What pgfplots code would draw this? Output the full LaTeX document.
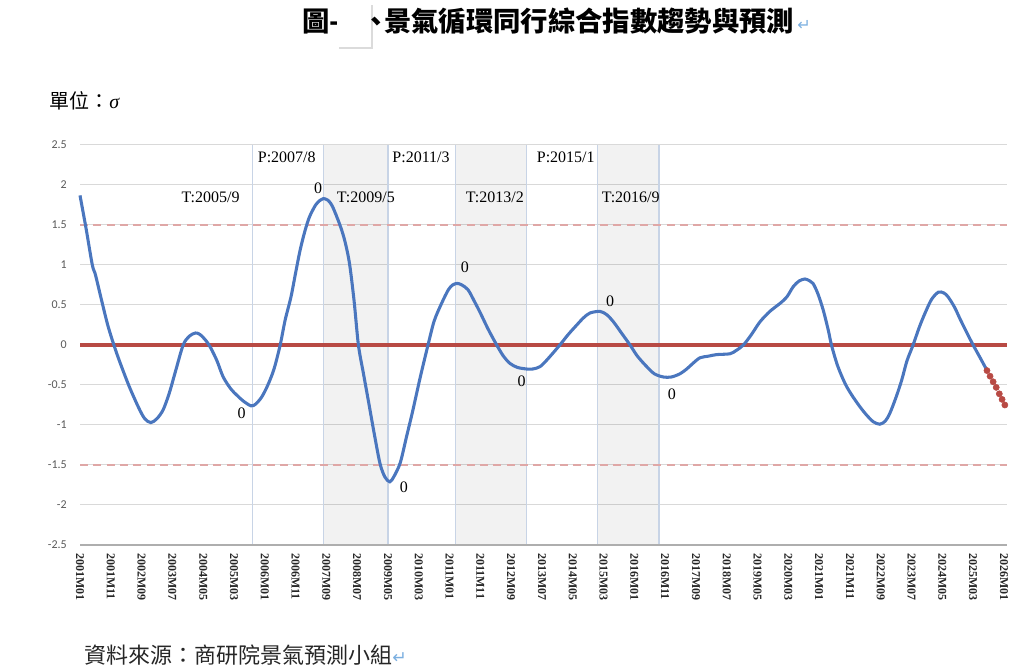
\documentclass[border=0pt]{standalone}
\usepackage{pgfplots}
\pgfplotsset{compat=1.18}
\usepackage{fontspec}
\setmainfont{Liberation Serif}
\newfontfamily\cjk{Noto Sans CJK TC}
\newfontfamily\carlito{Carlito}
\newfontfamily\dejavu{DejaVu Sans}
\definecolor{bline}{HTML}{4A76BE}
\definecolor{rline}{HTML}{B84A44}
\definecolor{pinkd}{HTML}{DFA7A6}
\definecolor{gridc}{HTML}{D9D9D9}
\definecolor{vline}{HTML}{C8D4E6}
\definecolor{retc}{HTML}{7BAFE0}
\definecolor{ticktxt}{HTML}{595959}
\begin{document}
\begin{tikzpicture}
\begin{scope}[x=0.75pt,y=-0.75pt,yshift=502.5pt]
\useasboundingbox (0,0) rectangle (1024,670);
\end{scope}
\begin{axis}[
  at={(60pt,93.75pt)}, anchor=south west,
  scale only axis, width=695.25pt, height=300pt,
  xmin=0, xmax=301, ymin=-2.5, ymax=2.5,
  axis line style={draw=none},
  major tick length=0pt,
  clip=false,
  ytick={-2.5,-2,-1.5,-1,-0.5,0,0.5,1,1.5,2,2.5},
  yticklabels={-2.5,-2,-1.5,-1,-0.5,0,0.5,1,1.5,2,2.5},
  yticklabel style={anchor=east, inner sep=0pt, xshift=-9.75pt, text=ticktxt, font=\carlito\fontsize{9}{10}\selectfont},
  xtick={0,10,...,300},
  xticklabels={2001M01,2001M11,2002M09,2003M07,2004M05,2005M03,2006M01,2006M11,2007M09,2008M07,2009M05,2010M03,2011M01,2011M11,2012M09,2013M07,2014M05,2015M03,2016M01,2016M11,2017M09,2018M07,2019M05,2020M03,2021M01,2021M11,2022M09,2023M07,2024M05,2025M03,2026M01},
  xticklabel style={yshift=-6pt, rotate=-90, anchor=west, inner sep=0pt, text=black!85, font=\bfseries\fontsize{9}{10}\selectfont},
  ymajorgrids, grid style={gridc, line width=0.75pt},
]
% recession shading
\addplot[draw=none, fill=black, fill opacity=0.05] coordinates {(79,-2.5) (79,2.5) (100,2.5) (100,-2.5)} -- cycle;
\addplot[draw=none, fill=black, fill opacity=0.05] coordinates {(122,-2.5) (122,2.5) (145,2.5) (145,-2.5)} -- cycle;
\addplot[draw=none, fill=black, fill opacity=0.05] coordinates {(168,-2.5) (168,2.5) (188,2.5) (188,-2.5)} -- cycle;
% cycle lines
\addplot[vline, line width=0.8pt] coordinates {(56,-2.5) (56,2.5)};
\addplot[vline, line width=0.8pt] coordinates {(79,-2.5) (79,2.5)};
\addplot[vline, line width=0.8pt] coordinates {(100,-2.5) (100,2.5)};
\addplot[vline, line width=0.8pt] coordinates {(122,-2.5) (122,2.5)};
\addplot[vline, line width=0.8pt] coordinates {(145,-2.5) (145,2.5)};
\addplot[vline, line width=0.8pt] coordinates {(168,-2.5) (168,2.5)};
\addplot[vline, line width=0.8pt] coordinates {(188,-2.5) (188,2.5)};
% bottom axis line
\addplot[gridc!80!black, line width=0.8pt] coordinates {(0,-2.5) (301,-2.5)};
% +-1.5 dashed lines
\addplot[pinkd, line width=2.2pt, dash pattern=on 6pt off 4pt] coordinates {(0,1.5) (301,1.5)};
\addplot[pinkd, line width=2.2pt, dash pattern=on 6pt off 4pt] coordinates {(0,-1.5) (301,-1.5)};
% zero line
\addplot[rline, line width=2.4pt] coordinates {(0,0) (301,0)};
% coincident composite index
\addplot[bline, line width=2.3pt, smooth] coordinates {
(0,1.87) (2,1.45) (4,1.0) (5,0.88) (7,0.56) (9,0.25) (11,0.0) (13,-0.22) (16,-0.52)
(19,-0.78) (21,-0.92) (23,-0.97) (25,-0.92) (27,-0.81) (29,-0.6) (31,-0.33) (33.5,0)
(35.5,0.11) (37.5,0.15) (39,0.13) (41,0.05) (42.5,-0.04) (44.5,-0.2) (46.5,-0.4)
(49,-0.55) (51,-0.63) (53,-0.7) (55.5,-0.76) (57,-0.74) (59,-0.65) (61,-0.5) (63,-0.3)
(65,0) (66.6,0.31) (68.5,0.6) (70,0.9) (71.5,1.19) (73,1.42) (74.5,1.6) (76.5,1.75)
(78,1.81) (79,1.83) (80.5,1.81) (82,1.73) (84.4,1.5) (86,1.3) (87.5,1.02) (89,0.55)
(90.4,0.0) (92,-0.35) (93.6,-0.69) (95.5,-1.1) (97.4,-1.48) (99,-1.65) (100.6,-1.71)
(102,-1.64) (104,-1.47) (106,-1.15) (108,-0.83) (110.5,-0.4) (113,0.0) (115,0.3)
(117.4,0.52) (119.6,0.69) (121,0.75) (122.5,0.77) (124,0.75) (126,0.69) (128,0.55)
(130,0.4) (132.5,0.2) (135.3,0.0) (137.5,-0.14) (139.6,-0.23) (142,-0.28) (145,-0.30)
(147,-0.3) (149.4,-0.27) (152,-0.17) (155.8,0.0) (158.5,0.13) (161.3,0.25) (163.5,0.34)
(165.6,0.4) (168.8,0.42) (171,0.38) (173.2,0.29) (176,0.14) (178.6,0.0) (181,-0.14)
(184,-0.27) (186.5,-0.36) (189.4,-0.40) (192,-0.40) (194.8,-0.36) (197,-0.30) (199,-0.23)
(201.3,-0.16) (204,-0.14) (206.7,-0.12) (211,-0.11) (213,-0.07) (215.4,0.0) (218,0.13)
(220.8,0.29) (224,0.42) (227.3,0.52) (229.5,0.6) (231.6,0.73) (233.5,0.80) (235.4,0.825)
(237,0.8) (238,0.77) (239.5,0.65) (241.3,0.44) (243,0.18) (244,0.0) (246,-0.26)
(248.4,-0.48) (250.5,-0.62) (253.2,-0.77) (255.5,-0.88) (257.6,-0.96) (259.7,-0.99)
(261.5,-0.95) (263,-0.85) (265,-0.65) (266.8,-0.44) (268.5,-0.2) (270.5,0.0) (272.5,0.22)
(274.4,0.4) (276.5,0.57) (278.7,0.66) (280.5,0.65) (281.9,0.60) (284,0.47) (285.7,0.33)
(288,0.15) (290,0.0) (292,-0.14) (294.4,-0.31)
};
% forecast
\addplot[only marks, mark=*, mark size=2.3pt, rline] coordinates {
(294.5,-0.32) (295.5,-0.39) (296.5,-0.46) (297.5,-0.53) (298.5,-0.61) (299.4,-0.68) (300.3,-0.75)
};
% annotations
\begin{scope}[font=\fontsize{12}{14}\selectfont]
\node[anchor=east, inner sep=0pt] at (axis cs:76.6,2.35) {P:2007/8};
\node[anchor=east, inner sep=0pt] at (axis cs:120.1,2.35) {P:2011/3};
\node[anchor=east, inner sep=0pt] at (axis cs:167.2,2.35) {P:2015/1};
\node[anchor=east, inner sep=0pt] at (axis cs:51.9,1.85) {T:2005/9};
\node[anchor=east, inner sep=0pt] at (axis cs:102.3,1.85) {T:2009/5};
\node[anchor=east, inner sep=0pt] at (axis cs:144.2,1.85) {T:2013/2};
\node[anchor=east, inner sep=0pt] at (axis cs:188.3,1.85) {T:2016/9};
\node[inner sep=0pt] at (axis cs:77.3,1.96) {0};
\node[inner sep=0pt] at (axis cs:52.5,-0.85) {0};
\node[inner sep=0pt] at (axis cs:105.2,-1.78) {0};
\node[inner sep=0pt] at (axis cs:125,0.975) {0};
\node[inner sep=0pt] at (axis cs:143.4,-0.45) {0};
\node[inner sep=0pt] at (axis cs:172.1,0.55) {0};
\node[inner sep=0pt] at (axis cs:192.2,-0.62) {0};
\end{scope}
\end{axis}
\begin{scope}[x=0.75pt,y=-0.75pt,yshift=502.5pt]
% title
\node[anchor=base west, inner sep=0pt, font=\cjk\bfseries\fontsize{20.5}{24}\selectfont] at (302,32) {圖-};
\fill[black!14] (339,5) rectangle (373,49);
\fill[white] (337,3) rectangle (371,47);
\node[inner sep=0pt, font=\cjk\bfseries\fontsize{20.5}{24}\selectfont] at (376,24) {、};
\node[anchor=base west, inner sep=0pt, font=\cjk\bfseries\fontsize{20.5}{24}\selectfont] at (384,32) {景氣循環同行綜合指數趨勢與預測};
\node[inner sep=0pt, text=retc, font=\dejavu\fontsize{12}{14}\selectfont] at (804,25) {↵};
% unit
\node[anchor=base west, inner sep=0pt, font=\cjk\fontsize{15}{18}\selectfont] at (49,109) {單位：{\itshape\fontspec{Liberation Serif}σ}};
% source
\node[anchor=base west, inner sep=0pt, font=\cjk\fontsize{16.5}{20}\selectfont, text=black!85] at (84,664) {資料來源：商研院景氣預測小組{\dejavu\color{retc}\fontsize{13}{14}\selectfont↵}};
\end{scope}
\end{tikzpicture}
\end{document}
